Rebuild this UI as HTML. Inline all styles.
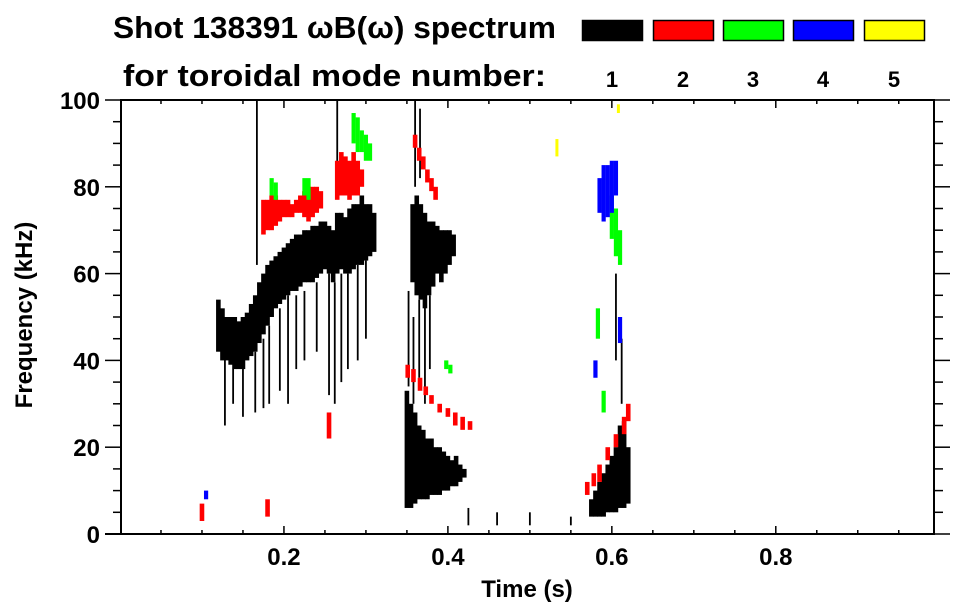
<!DOCTYPE html>
<html><head><meta charset="utf-8"><style>
html,body{margin:0;padding:0;background:#fff;}
svg{display:block;font-family:"Liberation Sans",sans-serif;font-weight:bold;}
</style></head><body>
<svg id="chart" width="963" height="615" viewBox="0 0 963 615">
<text x="113" y="38" font-size="31" textLength="443" lengthAdjust="spacingAndGlyphs">Shot 138391 ωB(ω) spectrum</text>
<text x="123" y="86" font-size="31" textLength="423" lengthAdjust="spacingAndGlyphs">for toroidal mode number:</text>
<g id="legend"></g>
<g id="marks"></g>
<g id="axes"></g>
<text x="527" y="597" font-size="24" text-anchor="middle">Time (s)</text>
<text transform="translate(32,315) rotate(-90)" font-size="24" text-anchor="middle">Frequency (kHz)</text>
</svg>
<script>
// ---- data ----
const modeNames=["1","2","3","4","5"];
const modeColors=["#000000","#ff0000","#00ff00","#0000ff","#ffff00"];
const xTicks=[0.2,0.4,0.6,0.8];
const yTicks=[0,20,40,60,80,100];
// mode 1 columns: time, low freq, high freq
const m1T=[.120,.125,.130,.135,.140,.145,.150,.155,.160,.165,.170,.175,.180,.185,.190,.195,.200,.205,.210,.215,.220,.225,.230,.235,.240,.245,.250,.255,.260,.265,.270,.275,.280,.285,.290,.295,.300,.305,.310,
 .357,.362,.367,.372,.377,.382,.387,.392,.397,.402,.407,
 .350,.355,.360,.365,.370,.375,.380,.385,.390,.395,.400,.405,.410,.415,.420,
 .575,.580,.585,.590,.595,.600,.605,.610,.615,.620];
const m1Lo=[42,40,40,39,38,38,38,40,41,42,44,46,48,50,52,53,54,55,56,56,57,58,58,58,59,60,61,60,58,60,61,60,60,61,62,62,63,64,65,
 58,55,54,52,55,57,60,58,60,62,64,
 6,6,7,8,8,8,9,9,9,10,10,11,11,12,13,
 4,4,4,4,5,5,5,6,6,7];
const m1Hi=[54,52,50,50,50,49,50,51,53,55,58,60,62,63,64,65,66,67,68,69,69,70,70,71,71,72,72,71,70,74,74,73,75,76,76,78,76,76,74,
 76,78,76,74,72,72,71,70,70,70,69,
 33,30,28,25,24,22,22,20,20,19,18,17,18,16,15,
 8,10,12,14,16,18,20,25,26,20];
// mode 1 thin streaks
const m1sT=[.128,.138,.150,.165,.175,.182,.195,.205,.215,.225,.240,.255,.262,.270,.278,.290,.300,.167,.265,.352,.358,.365,.372,.378,.360,.366,.605,.612,.425,.46,.50,.55];
const m1sLo=[25,30,27,28,29,30,33,30,38,40,42,32,30,35,38,40,45,62,85,34,30,36,30,38,80,82,40,30,2,2,2,2];
const m1sHi=[42,40,40,42,45,48,52,55,55,56,58,60,58,60,60,62,63,100,100,56,50,54,60,55,100,98,60,45,6,5,5,4];
// mode 2
const m2T=[.175,.180,.185,.190,.195,.200,.205,.210,.215,.220,.225,.230,.235,.240,.245,.265,.270,.275,.280,.285,.290,.295,.360,.365,.370,.375,.380,.385,
 .351,.358,.366,.373,.380,.390,.400,.409,.418,.427,.570,.578,.585,.595,.605,.615,.620,.100,.180,.255];
const m2Lo=[69,70,70,71,72,73,73,73,74,74,73,72,73,74,75,77,78,78,77,78,78,80,89,86,84,81,79,77,
 36,35,33,32,30,28,27,25,24,24,9,11,12,17,20,23,26,3,4,22];
const m2Hi=[77,77,78,78,77,77,77,76,77,78,79,80,80,80,79,86,88,87,86,88,86,84,92,89,87,84,82,80,
 39,38,36,34,32,30,29,28,27,26,12,14,16,20,23,27,30,7,8,28];
// mode 3
const m3T=[.185,.190,.225,.230,.285,.290,.295,.300,.305,.600,.605,.610,.398,.403,.583,.590];
const m3Lo=[78,77,78,77,90,88,88,86,86,68,64,62,38,37,45,28];
const m3Hi=[82,81,82,82,97,96,93,92,90,78,75,70,40,39,52,33];
// mode 4
const m4T=[.585,.590,.595,.600,.605,.610,.580,.105];
const m4Lo=[74,72,73,74,78,44,36,8];
const m4Hi=[82,85,85,86,86,50,40,10];
// mode 5
const m5T=[.533,.608];
const m5Lo=[87,97];
const m5Hi=[91,99];

// ---- scales ----
const X0=120,X1=934,Y0=534,Y1=100,TMAX=0.993;
const xs=t=>X0+t/TMAX*(X1-X0);
const ys=f=>Y0-f/100*(Y0-Y1);
const NS="http://www.w3.org/2000/svg";
function mk(tag,attrs,parent){const e=document.createElementNS(NS,tag);for(const k in attrs)e.setAttribute(k,attrs[k]);parent.appendChild(e);return e;}

const marks=document.getElementById('marks');
function drawCols(T,Lo,Hi,color,w,name){
  for(let i=0;i<T.length;i++){
    const x=xs(T[i]);
    const r=mk('rect',{x:x-w/2,y:ys(Hi[i]),width:w,height:Math.max(1,ys(Lo[i])-ys(Hi[i])),fill:color},marks);
    
    
  }
}
drawCols(m1T,m1Lo,m1Hi,modeColors[0],4.6,'mode-1-column');
drawCols(m1sT,m1sLo,m1sHi,modeColors[0],1.8,'mode-1-streak');
drawCols(m2T,m2Lo,m2Hi,modeColors[1],4.6,'mode-2-column');
drawCols(m3T,m3Lo,m3Hi,modeColors[2],4.2,'mode-3-column');
drawCols(m4T,m4Lo,m4Hi,modeColors[3],4.2,'mode-4-column');
drawCols(m5T,m5Lo,m5Hi,modeColors[4],3,'mode-5-column');

// legend
const lg=document.getElementById('legend');
const lx=[582,653,723,793,864];
for(let i=0;i<modeNames.length;i++){
  const r=mk('rect',{x:lx[i]+0.5,y:20.5,width:60,height:20,fill:modeColors[i],stroke:'#000','stroke-width':1.5},lg);
  
  
  const t=mk('text',{x:lx[i]+30,y:87,'font-size':22,'text-anchor':'middle'},lg);
  t.textContent=modeNames[i];
  
  
}

// axes
const ax=document.getElementById('axes');
const frame=mk('rect',{x:X0+1,y:Y1,width:X1-X0-1,height:Y0-Y1,fill:'none',stroke:'#000','stroke-width':2},ax);


mk('line',{x1:105,y1:Y0,x2:X0,y2:Y0,stroke:'#000','stroke-width':2},ax);
for(let t=0.05;t<TMAX;t+=0.05){
  const x=xs(t);const major=Math.abs(t/0.2-Math.round(t/0.2))<1e-6;
  const len=major?8:4;
  mk('line',{x1:x,y1:Y0,x2:x,y2:Y0-len,stroke:'#000','stroke-width':1.5},ax);
  mk('line',{x1:x,y1:Y1,x2:x,y2:Y1+len,stroke:'#000','stroke-width':1.5},ax);
}
xTicks.forEach(v=>{
  const t=mk('text',{x:xs(v),y:565,'font-size':24,'text-anchor':'middle'},ax);
  t.textContent=v.toFixed(1);
  
  
});
for(let f=0;f<=100;f+=5){
  const y=ys(f);const major=f%20===0;
  mk('line',{x1:major?105:113,y1:y,x2:X0,y2:y,stroke:'#000','stroke-width':1.5},ax);
  mk('line',{x1:X1,y1:y,x2:major?950:943,y2:y,stroke:'#000','stroke-width':1.5},ax);
}
yTicks.forEach(v=>{
  const t=mk('text',{x:100,y:ys(v)+9,'font-size':24,'text-anchor':'end'},ax);
  t.textContent=v;
  
  
});
</script>
</body></html>
